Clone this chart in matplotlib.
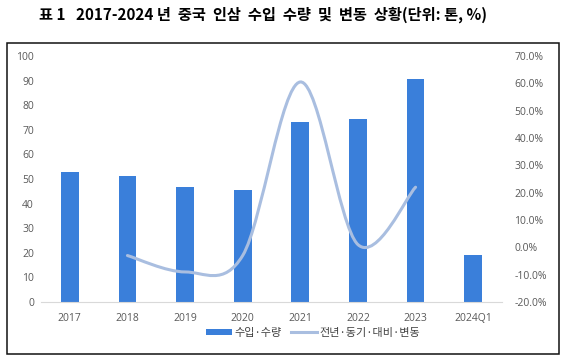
import matplotlib.pyplot as plt
import numpy as np
from matplotlib.lines import Line2D
from matplotlib.patches import Patch, PathPatch, Rectangle
from matplotlib.path import Path

plt.rcParams["font.family"] = ["Noto Sans CJK KR", "DejaVu Sans"]

years = ["2017", "2018", "2019", "2020", "2021", "2022", "2023", "2024Q1"]
volume = [52.8, 51.2, 46.6, 45.4, 73.3, 74.4, 90.6, 19.2]
# YoY change (%), available 2018-2023
growth_years = ["2018", "2019", "2020", "2021", "2022", "2023"]
growth = [-3.0, -9.0, -3.0, 60.5, 1.0, 22.0]

bar_color = "#3a7fda"
line_color = "#a9bee0"
tick_color = "#595959"

fig = plt.figure(figsize=(5.67, 3.61), dpi=100)

fig.text(0.463, 0.958, "표 1   2017-2024 년  중국  인삼  수입  수량  및  변동  상황(단위: 톤, %)",
         ha="center", va="center", fontsize=11, fontweight="bold", color="black")

# outer frame
fig.patches.append(Rectangle((6.5 / 567, 1 - 354 / 361), (559 - 6.5) / 567, (354 - 43) / 361,
                             transform=fig.transFigure, fill=False, edgecolor="#111111",
                             linewidth=1.1))

ax = fig.add_axes([41 / 567, 1 - 302 / 361, (502 - 41) / 567, (302 - 56) / 361])
x = np.arange(len(years))
ax.bar(x, volume, width=0.31, color=bar_color, zorder=2)
ax.set_xlim(-0.5, len(years) - 0.5)
ax.set_ylim(0, 100)
ax.set_yticks(range(0, 101, 10))
ax.set_xticks(x)
ax.set_xticklabels(years)
for s in ["top", "right", "left"]:
    ax.spines[s].set_visible(False)
ax.spines["bottom"].set_color("#d9d9d9")
ax.tick_params(axis="both", length=0, labelsize=7.5, labelcolor=tick_color)
ax.tick_params(axis="y", pad=5)
ax.tick_params(axis="x", pad=8)
for lab in ax.get_xticklabels() + ax.get_yticklabels():
    lab.set_family("Open Sans")

ax2 = ax.twinx()
ax2.set_ylim(-20, 70)
ax2.set_yticks(range(-20, 71, 10))
ax2.set_yticklabels([f"{v:.1f}%" for v in range(-20, 71, 10)])
for s in ax2.spines.values():
    s.set_visible(False)
ax2.tick_params(axis="y", length=0, labelsize=7.5, labelcolor=tick_color, pad=9)
for lab in ax2.get_yticklabels():
    lab.set_family("Open Sans")

# smoothed line (Catmull-Rom style Bezier, like Excel's smoothed line)
gx = [years.index(y) for y in growth_years]
pts = np.column_stack([gx, growth]).astype(float)
verts = [tuple(pts[0])]
codes = [Path.MOVETO]
n = len(pts)
for i in range(n - 1):
    p0 = pts[max(i - 1, 0)]
    p1 = pts[i]
    p2 = pts[i + 1]
    p3 = pts[min(i + 2, n - 1)]
    c1 = p1 + (p2 - p0) / 6
    c2 = p2 - (p3 - p1) / 6
    verts += [tuple(c1), tuple(c2), tuple(p2)]
    codes += [Path.CURVE4] * 3
ax2.add_patch(PathPatch(Path(verts, codes), facecolor="none", edgecolor=line_color,
                        linewidth=2.2, capstyle="round", zorder=3))

handles = [Patch(facecolor=bar_color, edgecolor="none"),
           Line2D([], [], color=line_color, linewidth=2.2)]
fig.legend(handles, ["수입·수량", "전년·동기·대비·변동"], loc="center",
           bbox_to_anchor=(313 / 567, 1 - 333 / 361), ncol=2, frameon=False,
           fontsize=8, labelcolor="#404040", handlelength=2.4, handleheight=0.5,
           handletextpad=0.2, columnspacing=0.8)

fig.savefig("out.png", dpi=100)
